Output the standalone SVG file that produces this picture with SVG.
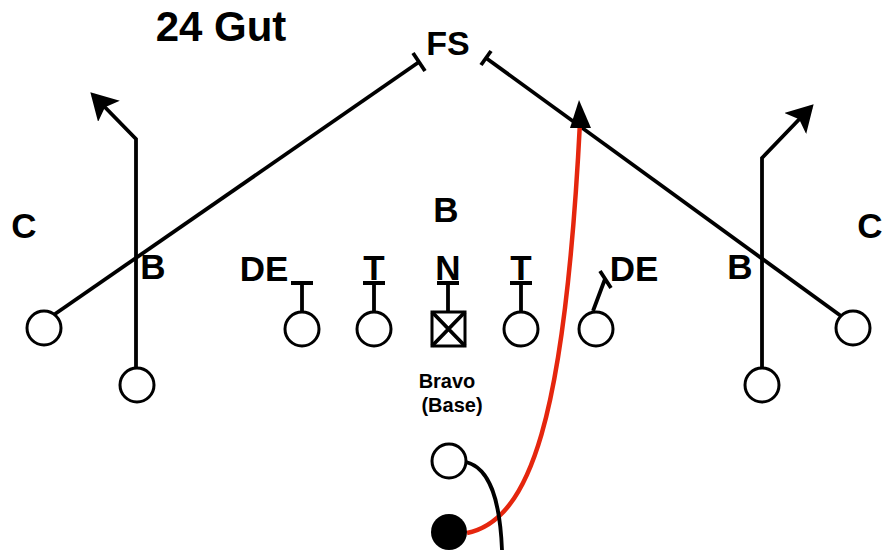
<svg xmlns="http://www.w3.org/2000/svg" width="885" height="550" viewBox="0 0 885 550">
<style>
.lbl{font-family:"Liberation Sans",Arial,sans-serif;font-weight:bold;fill:#000;text-anchor:middle}
.big{font-size:35px}
.small{font-size:20px}
.ln{stroke:#000;stroke-width:3.8;fill:none;stroke-linecap:butt}
.pl{stroke:#000;stroke-width:3;fill:#fff}
.blk{stroke:#000;stroke-width:3.8;fill:none}
</style>
<defs>
<marker id="ah" markerWidth="8" markerHeight="8" refX="6" refY="4" orient="auto" markerUnits="strokeWidth">
<path d="M0,0 L7,4 L0,8 L1.5,4 Z" fill="#000"/>
</marker>
</defs>
<rect width="885" height="550" fill="#fff"/>
<text class="lbl" x="221" y="41" style="font-size:42px">24 Gut</text>
<g id="connectors">
<path class="ln" d="M55,314 L419,62"/>
<path class="blk" d="M413,53 L425,71"/>
<path class="ln" d="M841,316 L486,58"/>
<path class="blk" d="M481,65 L491,51"/>
<path class="ln" d="M136,367 L136,139 L93,95" marker-end="url(#ah)"/>
<path class="ln" d="M762,367 L762,158 L811,107" marker-end="url(#ah)"/>
<path class="ln" d="M302,311 L302,283 M291,283 L313,283"/>
<path class="ln" d="M374,311 L374,283 M363,283 L385,283"/>
<path class="ln" d="M448,312 L448,283 M437,283 L459,283"/>
<path class="ln" d="M521,311 L521,283 M510,283 L532,283"/>
<path class="ln" d="M593,311 L605,279 M600,271 L611,288"/>
<path d="M467,533 C530,520 565,420 580,122" stroke="#e5260e" stroke-width="4.5" fill="none"/>
<polygon points="579,100 570,128 591,128" fill="#000"/>
<path class="ln" d="M466,462 C490,468 500,500 502,550"/>
</g>
<g id="FS"><text class="lbl" x="448" y="55" style="font-size:34px">FS</text></g>
<g id="C-left"><text class="lbl big" x="24" y="238">C</text></g>
<g id="C-right"><text class="lbl big" x="870" y="238">C</text></g>
<g id="B-mid"><text class="lbl big" x="446" y="222">B</text></g>
<g id="B-left"><text class="lbl big" x="153" y="279">B</text></g>
<g id="B-right"><text class="lbl big" x="740" y="279">B</text></g>
<g id="DE-left"><text class="lbl big" x="264" y="281">DE</text></g>
<g id="T-left"><text class="lbl big" x="374" y="280">T</text></g>
<g id="N"><text class="lbl big" x="448" y="280">N</text></g>
<g id="T-right"><text class="lbl big" x="521" y="280">T</text></g>
<g id="DE-right"><text class="lbl big" x="634" y="281">DE</text></g>
<g id="WR-left"><circle class="pl" cx="44" cy="328" r="17"/></g>
<g id="slot-left"><circle class="pl" cx="137" cy="385" r="17"/></g>
<g id="WR-right"><circle class="pl" cx="853" cy="328" r="17"/></g>
<g id="slot-right"><circle class="pl" cx="762" cy="385" r="17"/></g>
<g id="LT"><circle class="pl" cx="302" cy="329" r="17"/></g>
<g id="LG"><circle class="pl" cx="374" cy="329" r="17"/></g>
<g id="center"><rect class="pl" x="432" y="312" width="33" height="34"/><path class="ln" d="M432,312 L465,346 M465,312 L432,346" stroke-width="2"/></g>
<g id="RG"><circle class="pl" cx="521" cy="329" r="17"/></g>
<g id="RT"><circle class="pl" cx="596" cy="329" r="17"/></g>
<g id="bravo"><text class="lbl small" x="447" y="388">Bravo</text><text class="lbl small" x="452" y="412">(Base)</text></g>
<g id="QB"><circle class="pl" cx="449" cy="461" r="17"/></g>
<g id="RB"><circle cx="449" cy="532" r="18" fill="#000"/></g>
</svg>
